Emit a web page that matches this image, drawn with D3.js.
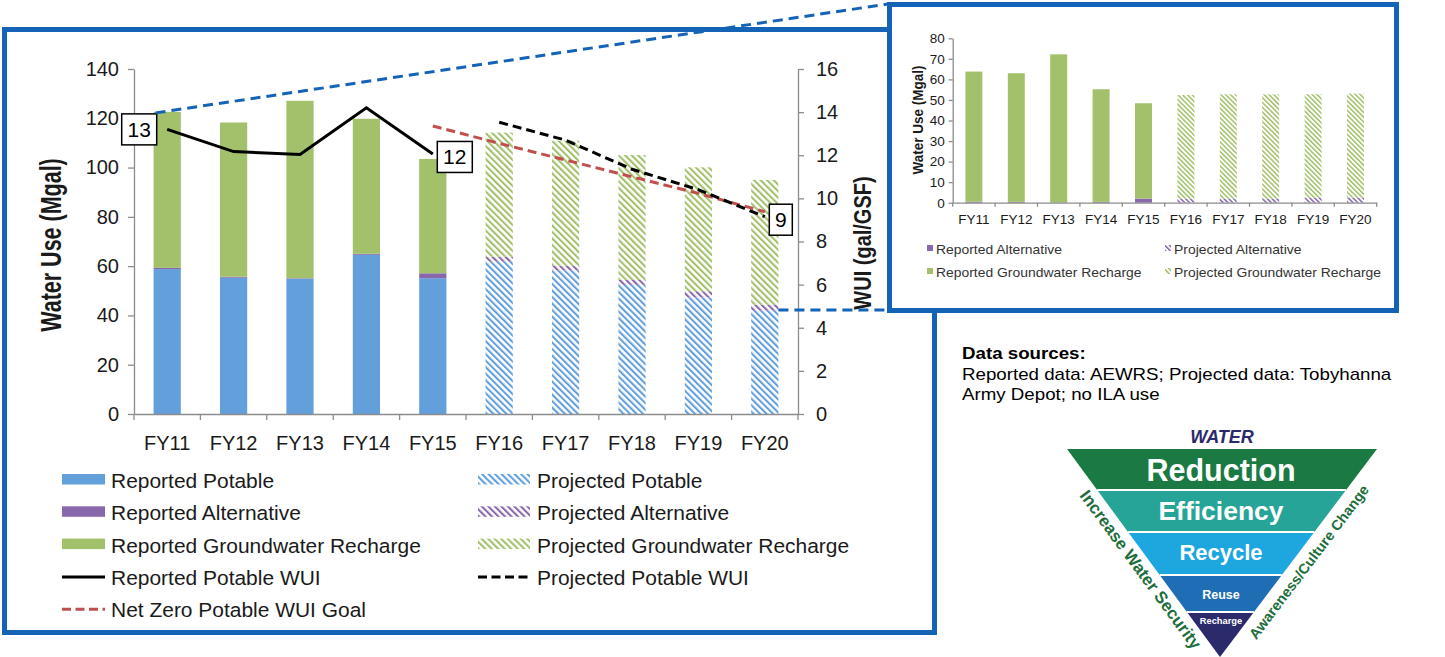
<!DOCTYPE html>
<html>
<head>
<meta charset="utf-8">
<script src="https://cdn.jsdelivr.net/npm/d3@7"></script>
<style>
  html, body { margin: 0; padding: 0; background: #fff; }
  svg { display: block; font-family: "Liberation Sans", Arial, sans-serif; }
</style>
</head>
<body>
<svg id="chart" width="1445" height="657"></svg>
<script>
// ---------- DATA ----------
const categories = ["FY11","FY12","FY13","FY14","FY15","FY16","FY17","FY18","FY19","FY20"];
const projected = [false,false,false,false,false,true,true,true,true,true];
const potable = [58.8, 55.3, 54.9, 64.6, 55.1, 61.8, 58.2, 52.4, 47.3, 41.9];
const alternative = [0.5, 0.4, 0.2, 0.4, 2.0, 2.0, 2.0, 2.0, 2.5, 2.5];
const recharge = [63.3, 62.6, 72.0, 54.8, 46.4, 50.4, 50.7, 50.7, 50.3, 50.6];
const reportedWUICats = ["FY11","FY12","FY13","FY14","FY15"];
const reportedWUI = [13.2, 12.17, 12.04, 14.2, 12.06];
const projectedWUICats = ["FY16","FY17","FY18","FY19","FY20"];
const projectedWUI = [13.53, 12.7, 11.35, 10.4, 9.15];
const goalWUICats = ["FY15","FY16","FY17","FY18","FY19","FY20"];
const goalWUI = [13.36, 12.55, 11.78, 11.0, 10.23, 9.38];
const wuiLabels = [{cat:"FY11", text:"13"}, {cat:"FY15", text:"12"}, {cat:"FY20", text:"9"}];
const leftTicks = [0,20,40,60,80,100,120,140];
const rightTicks = [0,2,4,6,8,10,12,14,16];
const insetTicks = [0,10,20,30,40,50,60,70,80];
const mainLegend = [
  ["Reported Potable","Projected Potable"],
  ["Reported Alternative","Projected Alternative"],
  ["Reported Groundwater Recharge","Projected Groundwater Recharge"],
  ["Reported Potable WUI","Projected Potable WUI"],
  ["Net Zero Potable WUI Goal", null]
];
const insetLegend = [
  ["Reported Alternative","Projected Alternative"],
  ["Reported Groundwater Recharge","Projected Groundwater Recharge"]
];
const pyramidBands = ["Reduction","Efficiency","Recycle","Reuse","Recharge"];
const dataSourceLines = ["Reported data: AEWRS; Projected data: Tobyhanna","Army Depot; no ILA use"];

// ---------- STYLE ----------
const C = {
  blue: "#629fdb", purple: "#8868aa", green: "#a2c16a",
  frame: "#1463b6", axis: "#8c8c8c", text: "#1a1a1a", red: "#c0504d"
};

const svg = d3.select("#chart");
const defs = svg.append("defs");
function hatch(id, color, size) {
  const p = defs.append("pattern").attr("id", id).attr("patternUnits","userSpaceOnUse")
    .attr("width", size).attr("height", size).attr("patternTransform","rotate(-45)");
  p.append("rect").attr("width", size).attr("height", size).attr("fill","#fff");
  p.append("rect").attr("width", size*0.45).attr("height", size).attr("fill", color);
}
hatch("hBlue", C.blue, 4.6);
hatch("hPurple", C.purple, 4.6);
hatch("hGreen", C.green, 4.6);
hatch("hBlueS", C.blue, 3.4);
hatch("hPurpleS", C.purple, 3.4);
hatch("hGreenS", C.green, 3.4);
const fills = {
  potable: [C.blue, "url(#hBlue)"],
  alternative: [C.purple, "url(#hPurple)"],
  recharge: [C.green, "url(#hGreen)"]
};
// text with horizontal stretch (reference text is slightly widened)
function stext(parent, xx, yy, sx, sy, txt, size, weight, fill, anchor) {
  return parent.append("text")
    .attr("transform", `translate(${xx},${yy}) scale(${sx},${sy})`)
    .attr("text-anchor", anchor || "start")
    .style("font-size", size + "px").style("font-weight", weight || "normal")
    .attr("fill", fill).text(txt);
}

// ---------- FRAMES ----------
svg.append("rect").attr("x",4.5).attr("y",29.5).attr("width",930).attr("height",603)
  .attr("fill","#fff").attr("stroke",C.frame).attr("stroke-width",5);

// ---------- MAIN CHART ----------
const x = d3.scaleBand().domain(categories).range([134, 798]).paddingInner(0.59).paddingOuter(0.295);
const yL = d3.scaleLinear().domain([0,140]).range([414, 69]);
const yR = d3.scaleLinear().domain([0,16]).range([414, 69]);
const cx = c => x(c) + x.bandwidth()/2;

const g = svg.append("g");

// stacked bars
const stackData = categories.map((c,i) => ({cat:c, proj:projected[i], potable:potable[i], alternative:alternative[i], recharge:recharge[i]}));
const stack = d3.stack().keys(["potable","alternative","recharge"])(stackData);
stack.forEach(layer => {
  g.append("g").selectAll("rect").data(layer).join("rect")
    .attr("x", d => x(d.data.cat))
    .attr("width", x.bandwidth())
    .attr("y", d => yL(d[1]))
    .attr("height", d => yL(d[0]) - yL(d[1]))
    .attr("fill", d => fills[layer.key][d.data.proj ? 1 : 0]);
});

// axes
function styleAxis(sel, fs) {
  sel.select(".domain").attr("stroke", C.axis).attr("stroke-width", 1.3);
  sel.selectAll(".tick line").attr("stroke", C.axis).attr("stroke-width", 1.3);
  sel.selectAll(".tick text").attr("fill", C.text).style("font-size", fs + "px")
    .style("font-family", '"Liberation Sans", Arial, sans-serif');
}
const axL = g.append("g").attr("transform","translate(134,0)")
  .call(d3.axisLeft(yL).tickValues(leftTicks).tickSize(6).tickPadding(9).tickSizeOuter(0));
styleAxis(axL, 20);
const axR = g.append("g").attr("transform","translate(798,0)")
  .call(d3.axisRight(yR).tickValues(rightTicks).tickSize(6).tickPadding(12).tickSizeOuter(0));
styleAxis(axR, 20);
const axX = g.append("g").attr("transform","translate(0,414)")
  .call(d3.axisBottom(x).tickSize(0).tickPadding(22).tickSizeOuter(0));
styleAxis(axX, 20);
// category boundary ticks
const bounds = categories.map(c => x(c) - x.step()*x.paddingInner()/2).concat([798]);
axX.selectAll(".bt").data(bounds).join("line").attr("class","bt")
  .attr("x1", d => d).attr("x2", d => d).attr("y1", 0).attr("y2", 6)
  .attr("stroke", C.axis).attr("stroke-width", 1.3);

// axis titles
g.append("text").attr("transform","translate(61,245) rotate(-90) scale(1,1.4)").attr("text-anchor","middle")
  .style("font-size","21.5px").style("font-weight","bold").attr("fill",C.text).text("Water Use (Mgal)");
g.append("text").attr("transform","translate(871,243) rotate(-90) scale(1,1.2)").attr("text-anchor","middle")
  .style("font-size","20px").style("font-weight","bold").attr("fill",C.text).text("WUI (gal/GSF)");

// lines
const line = d3.line().x(d => cx(d[0])).y(d => yR(d[1]));
g.append("path").datum(reportedWUICats.map((c,i)=>[c,reportedWUI[i]])).attr("d", line)
  .attr("fill","none").attr("stroke","#000").attr("stroke-width",3);
g.append("path").datum(goalWUICats.map((c,i)=>[c,goalWUI[i]])).attr("d", line)
  .attr("fill","none").attr("stroke",C.red).attr("stroke-width",3).attr("stroke-dasharray","9,5");
g.append("path").datum(projectedWUICats.map((c,i)=>[c,projectedWUI[i]])).attr("d", line)
  .attr("fill","none").attr("stroke","#000").attr("stroke-width",3).attr("stroke-dasharray","9,5");

// data labels
const allWUI = {};
reportedWUICats.forEach((c,i)=> allWUI[c] = reportedWUI[i]);
projectedWUICats.forEach((c,i)=> allWUI[c] = projectedWUI[i]);
const labelOffset = {FY11:[-28,0], FY15:[22,3], FY20:[16,3]};
wuiLabels.forEach(l => {
  const px = cx(l.cat) + labelOffset[l.cat][0], py = yR(allWUI[l.cat]) + labelOffset[l.cat][1];
  const w = l.text.length > 1 ? 35 : 23, h = 31;
  g.append("rect").attr("x", px - w/2).attr("y", py - h/2).attr("width", w).attr("height", h)
    .attr("fill","#fff").attr("stroke","#000").attr("stroke-width",1.5);
  g.append("text").attr("x", px).attr("y", py + 7.5).attr("text-anchor","middle")
    .style("font-size","21px").attr("fill","#000").text(l.text);
});

// legend
const legG = g.append("g");
const colX = [62, 478], rowY0 = 481, rowDy = 32.3;
mainLegend.forEach((row, r) => {
  row.forEach((name, ci) => {
    if (!name) return;
    const yy = rowY0 + r*rowDy, xx = colX[ci];
    if (r < 3) {
      const key = ["potable","alternative","recharge"][r];
      const sw = ci === 0 ? 43 : 52;
      legG.append("rect").attr("x", xx).attr("y", yy-7).attr("width", sw).attr("height", 10.5)
        .attr("fill", fills[key][ci]);
    } else {
      const col = r === 4 ? C.red : "#000";
      const dash = (r === 4 || ci === 1) ? "9,4.5" : null;
      legG.append("line").attr("x1", xx).attr("x2", xx + (ci===0?43:52)).attr("y1", yy-1).attr("y2", yy-1)
        .attr("stroke", col).attr("stroke-width",3).attr("stroke-dasharray", dash);
    }
    stext(legG, xx + (ci===0?49:59), yy + 7, 1.075, 1, name, 19.5, "normal", C.text);
  });
});

// connecting dashed lines (zoom callout)
svg.append("line").attr("x1", x("FY11")+2).attr("y1", yL(stack[2][0][1]) + 1).attr("x2", 888).attr("y2", 4)
  .attr("stroke", C.frame).attr("stroke-width",3).attr("stroke-dasharray","10,6");
svg.append("line").attr("x1", x("FY20") + x.bandwidth()).attr("y1", 310).attr("x2", 888).attr("y2", 310)
  .attr("stroke", C.frame).attr("stroke-width",3).attr("stroke-dasharray","10,6");

// ---------- INSET ----------
svg.append("rect").attr("x",889.5).attr("y",4.5).attr("width",507).attr("height",306)
  .attr("fill","#fff").attr("stroke",C.frame).attr("stroke-width",5);
const xi = d3.scaleBand().domain(categories).range([952.7, 1376.7]).paddingInner(0.6).paddingOuter(0.3);
const yi = d3.scaleLinear().domain([0,80]).range([202.7, 38.3]);
const ig = svg.append("g");
const istack = d3.stack().keys(["alternative","recharge"])(stackData);
const ifills = { alternative: [C.purple, "url(#hPurpleS)"], recharge: [C.green, "url(#hGreenS)"] };
istack.forEach(layer => {
  ig.append("g").selectAll("rect").data(layer).join("rect")
    .attr("x", d => xi(d.data.cat)).attr("width", xi.bandwidth())
    .attr("y", d => yi(d[1])).attr("height", d => yi(d[0]) - yi(d[1]))
    .attr("fill", d => ifills[layer.key][d.data.proj ? 1 : 0]);
});
const iaxL = ig.append("g").attr("transform","translate(952.7,0)")
  .call(d3.axisLeft(yi).tickValues(insetTicks).tickSize(4).tickPadding(4).tickSizeOuter(0));
styleAxis(iaxL, 13.5);
const iaxX = ig.append("g").attr("transform","translate(0,202.7)")
  .call(d3.axisBottom(xi).tickSize(0).tickPadding(12).tickSizeOuter(0));
styleAxis(iaxX, 13.5);
const ibounds = categories.map(c => xi(c) - xi.step()*xi.paddingInner()/2).concat([1376.7]);
iaxX.selectAll(".bt").data(ibounds).join("line").attr("class","bt")
  .attr("x1", d => d).attr("x2", d => d).attr("y1", 0).attr("y2", 4)
  .attr("stroke", C.axis).attr("stroke-width",1.3);
ig.append("text").attr("transform","translate(923,120) rotate(-90) scale(1,1.15)").attr("text-anchor","middle")
  .style("font-size","13.5px").style("font-weight","bold").attr("fill",C.text).text("Water Use (Mgal)");
const icol = [927, 1165];
insetLegend.forEach((row, r) => {
  row.forEach((name, ci) => {
    const yy = 249 + r*23, xx = icol[ci];
    const key = r === 0 ? "alternative" : "recharge";
    ig.append("rect").attr("x", xx).attr("y", yy-4).attr("width", 6).attr("height", 6)
      .attr("fill", ifills[key][ci]);
    stext(ig, xx + 9, yy + 4.5, 1.07, 1, name, 13, "normal", "#333");
  });
});

// ---------- DATA SOURCES ----------
stext(svg, 962, 358.5, 1.17, 1, "Data sources:", 16, "bold", "#000");
dataSourceLines.forEach((t,i) => stext(svg, 962, 379.5 + i*20.7, 1.17, 1, t, 16, "normal", "#000"));

// ---------- WATER PYRAMID ----------
const P = {l:[1067,449], r:[1377,449], b:[1220,657]};
const cuts = [449, 490, 532, 575, 612, 657];
const bandColors = ["#1b7a43", "#26a497", "#1ea6df", "#1f6db5", "#2b2a6b"];
const bandFont = [30.5, 26.5, 22, 12.5, 9.3];
const bandBase = [481, 519.5, 559.5, 598.5, 624];
const xlAt = yy => P.l[0] + (yy - P.l[1]) * (P.b[0]-P.l[0])/(P.b[1]-P.l[1]);
const xrAt = yy => P.r[0] + (yy - P.r[1]) * (P.b[0]-P.r[0])/(P.b[1]-P.r[1]);
const pg = svg.append("g");
pyramidBands.forEach((name, i) => {
  const y0 = cuts[i], y1 = cuts[i+1];
  const pts = i === 4 ? [[xlAt(y0),y0],[xrAt(y0),y0],[P.b[0],P.b[1]]]
                      : [[xlAt(y0),y0],[xrAt(y0),y0],[xrAt(y1),y1],[xlAt(y1),y1]];
  pg.append("polygon").attr("points", pts.map(p=>p.join(",")).join(" ")).attr("fill", bandColors[i]);
  pg.append("text").attr("x", 1221).attr("y", bandBase[i]).attr("text-anchor","middle")
    .style("font-size", bandFont[i] + "px").style("font-weight","bold").attr("fill","#fff").text(name);
});
cuts.slice(1,5).forEach(yy => pg.append("line").attr("x1", xlAt(yy)).attr("x2", xrAt(yy))
  .attr("y1", yy).attr("y2", yy).attr("stroke","#fff").attr("stroke-width",2));
pg.append("text").attr("x",1222).attr("y",443).attr("text-anchor","middle")
  .style("font-size","18px").style("font-weight","bold").style("font-style","italic")
  .attr("fill","#2b2a6b").text("WATER");
const angL = Math.atan2(P.b[1]-P.l[1], P.b[0]-P.l[0]) * 180/Math.PI;
const angR = Math.atan2(P.r[1]-P.b[1], P.r[0]-P.b[0]) * 180/Math.PI;
pg.append("text").attr("transform", `translate(1136,573) rotate(${angL})`).attr("text-anchor","middle")
  .style("font-size","17px").style("font-weight","bold").attr("fill","#1d6e3c").text("Increase Water Security");
pg.append("text").attr("transform", `translate(1313,565) rotate(${angR})`).attr("text-anchor","middle")
  .style("font-size","14.5px").style("font-weight","bold").attr("fill","#1d6e3c").text("Awareness/Culture Change");
</script>
</body>
</html>
